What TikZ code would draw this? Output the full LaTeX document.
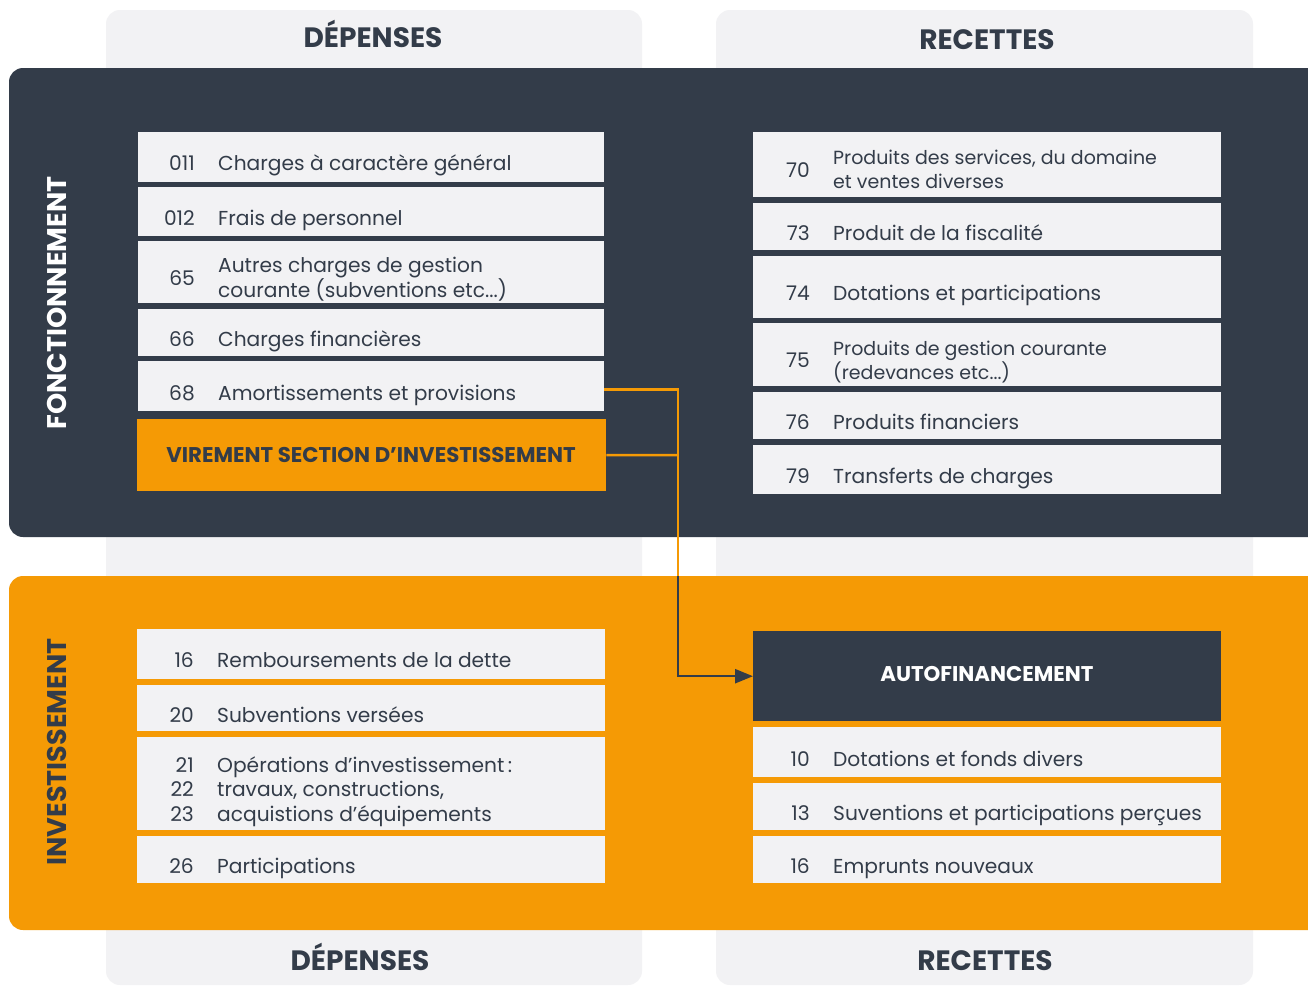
\documentclass[tikz,border=0pt]{standalone}
\usepackage{fontspec}
\setmainfont{Poppins}
\usetikzlibrary{arrows.meta}
\definecolor{dk}{HTML}{333C49}
\definecolor{og}{HTML}{F59A05}
\definecolor{lg}{HTML}{F2F2F4}
\begin{document}
\begin{tikzpicture}[x=1pt,y=-1pt,
  rowbox/.style={fill=lg, anchor=north west, inner sep=0pt, outer sep=0pt},
  num/.style={anchor=base east, inner sep=0pt, text=dk, align=right, font=\fontsize{20.2}{24.5}\selectfont},
  lbl/.style={anchor=base west, inner sep=0pt, text=dk, align=left, font=\fontsize{20.2}{24.5}\selectfont},
  lbls/.style={lbl, font=\fontsize{19}{24}\selectfont},
  head/.style={anchor=base, inner sep=0pt, text=dk, font=\fontsize{28}{32}\selectfont\bfseries},
  side/.style={rotate=90, inner sep=0pt, font=\fontsize{27}{30}\selectfont\bfseries},
  capt/.style={anchor=base, inner sep=0pt, font=\fontsize{21.3}{25}\selectfont\bfseries},
  conn/.style={line width=2.5pt}
]
\useasboundingbox (0,0) rectangle (1308,985);
\fill[white] (0,0) rectangle (1308,985);
% columns
\fill[lg, rounded corners=14pt] (106,10) rectangle (642,985);
\fill[lg, rounded corners=14pt] (716,10) rectangle (1253,985);
% bands
\fill[dk, rounded corners=14pt] (9,68) rectangle (1340,537);
\fill[og, rounded corners=14pt] (9,576) rectangle (1340,930);
% headers
\node[head] (hd1) at (373,47) {DÉPENSES};
\node[head] (hr1) at (987,49) {RECETTES};
\node[head] (hd2) at (360,970) {DÉPENSES};
\node[head] (hr2) at (985,970) {RECETTES};
% side labels
\node[side, text=white] (fonc) at (57,303) {FONCTIONNEMENT};
\node[side, text=dk] (inv) at (57,752) {INVESTISSEMENT};

% ---- Fonctionnement dépenses
\node[rowbox, minimum width=466pt, minimum height=50pt] (r011) at (138,132) {};
\node[num] (n011) at (195,170) {011};
\node[lbl] (t011) at (218,170) {Charges à caractère général};
\node[rowbox, minimum width=466pt, minimum height=49pt] (r012) at (138,187) {};
\node[num] (n012) at (195,225) {012};
\node[lbl] (t012) at (218,225) {Frais de personnel};
\node[rowbox, minimum width=466pt, minimum height=62pt] (r65) at (138,241) {};
\node[num] (n65) at (195,285) {65};
\node[lbl] (t65) at (218,297) {Autres charges de gestion\\courante (subventions etc...)};
\node[rowbox, minimum width=466pt, minimum height=47pt] (r66) at (138,309) {};
\node[num] (n66) at (195,346) {66};
\node[lbl] (t66) at (218,346) {Charges financières};
\node[rowbox, minimum width=466pt, minimum height=50pt] (r68) at (138,361) {};
\node[num] (n68) at (195,400) {68};
\node[lbl] (t68) at (218,400) {Amortissements et provisions};
\node[fill=og, anchor=north west, inner sep=0pt, minimum width=469pt, minimum height=72pt] (vir) at (137,419) {};
\node[capt, text=dk] (tvir) at (371,462) {VIREMENT SECTION D’INVESTISSEMENT};

% ---- Fonctionnement recettes
\node[rowbox, minimum width=468pt, minimum height=65pt] (r70) at (753,132) {};
\node[num] (n70) at (810,177) {70};
\node[lbls] (t70) at (833,188) {Produits des services, du domaine\\et ventes diverses};
\node[rowbox, minimum width=468pt, minimum height=47pt] (r73) at (753,203) {};
\node[num] (n73) at (810,240) {73};
\node[lbl] (t73) at (833,240) {Produit de la fiscalité};
\node[rowbox, minimum width=468pt, minimum height=62pt] (r74) at (753,256) {};
\node[num] (n74) at (810,300) {74};
\node[lbl] (t74) at (833,300) {Dotations et participations};
\node[rowbox, minimum width=468pt, minimum height=63pt] (r75) at (753,323) {};
\node[num] (n75) at (810,367) {75};
\node[lbls] (t75) at (833,379) {Produits de gestion courante\\(redevances etc...)};
\node[rowbox, minimum width=468pt, minimum height=47pt] (r76) at (753,392) {};
\node[num] (n76) at (810,429) {76};
\node[lbl] (t76) at (833,429) {Produits financiers};
\node[rowbox, minimum width=468pt, minimum height=49pt] (r79) at (753,445) {};
\node[num] (n79) at (810,483) {79};
\node[lbl] (t79) at (833,483) {Transferts de charges};

% ---- Investissement dépenses
\node[rowbox, minimum width=468pt, minimum height=50pt] (r16a) at (137,629) {};
\node[num] (n16a) at (194,667) {16};
\node[lbl] (t16a) at (217,667) {Remboursements de la dette};
\node[rowbox, minimum width=468pt, minimum height=46pt] (r20) at (137,685) {};
\node[num] (n20) at (194,722) {20};
\node[lbl] (t20) at (217,722) {Subventions versées};
\node[rowbox, minimum width=468pt, minimum height=93pt] (r21) at (137,737) {};
\node[num] (n21) at (194,821) {21\\22\\23};
\node[lbl] (t21) at (217,821) {Opérations d’investissement\,:\\travaux, constructions,\\acquistions d’équipements};
\node[rowbox, minimum width=468pt, minimum height=47pt] (r26) at (137,836) {};
\node[num] (n26) at (194,873) {26};
\node[lbl] (t26) at (217,873) {Participations};

% ---- Investissement recettes
\node[fill=dk, anchor=north west, inner sep=0pt, minimum width=468pt, minimum height=90pt] (auto) at (753,631) {};
\node[capt, text=white] (tauto) at (987,681) {AUTOFINANCEMENT};
\node[rowbox, minimum width=468pt, minimum height=50pt] (r10) at (753,727) {};
\node[num] (n10) at (810,766) {10};
\node[lbl] (t10) at (833,766) {Dotations et fonds divers};
\node[rowbox, minimum width=468pt, minimum height=47pt] (r13) at (753,783) {};
\node[num] (n13) at (810,820) {13};
\node[lbl] (t13) at (833,820) {Suventions et participations perçues};
\node[rowbox, minimum width=468pt, minimum height=47pt] (r16b) at (753,836) {};
\node[num] (n16b) at (810,873) {16};
\node[lbl] (t16b) at (833,873) {Emprunts nouveaux};

% ---- connectors
\coordinate (jB) at (678,455);
\coordinate (jC) at (678,576);
\draw[conn, og] ([yshift=-3.5pt]r68.east) -| (jC);
\draw[conn, og] (vir.east) -- (jB);
\draw[conn, dk, -{Triangle[length=18pt,width=14pt]}] (jC) |- (auto.west);
\end{tikzpicture}
\end{document}
